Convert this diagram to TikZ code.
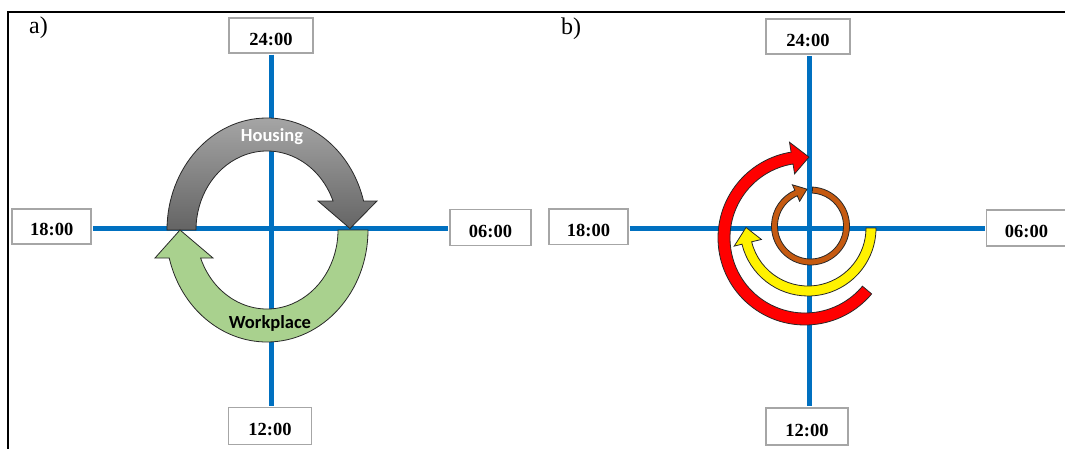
\documentclass[tikz,border=0pt]{standalone}
\usepackage{fontspec}
\setmainfont{Liberation Serif}
\newfontfamily\calibrifont{Carlito}
\usetikzlibrary{calc}
\definecolor{axisblue}{RGB}{0,112,192}
\definecolor{boxgray}{RGB}{166,166,166}
\definecolor{grtop}{RGB}{165,165,165}
\definecolor{grbot}{RGB}{100,100,100}
\definecolor{wgreen}{RGB}{169,209,142}
\definecolor{brownarrow}{RGB}{197,90,17}
\definecolor{outlinecol}{RGB}{40,40,40}
\begin{document}
\begin{tikzpicture}[x=1pt,y=1pt,
  timebox/.style={draw=boxgray, line width=1.6pt, fill=white, minimum width=#1,
    minimum height=35pt, inner sep=0pt, text height=19.2pt, text depth=0pt,
    font=\fontsize{18.5}{18.5}\selectfont\bfseries},
  timebox/.default=81pt,
  axisline/.style={draw=axisblue, line width=5pt, shorten <=0.8pt, shorten >=0.8pt},
  blockarrow/.style={draw=outlinecol, line width=0.8pt, line join=miter},
  panellabel/.style={font=\fontsize{24}{24}\selectfont, anchor=base west, inner sep=0pt},
  arclabel/.style={font=\calibrifont\fontsize{18.5}{18.5}\selectfont\bfseries, anchor=base, inner sep=0pt}
]
\useasboundingbox (0,0) rectangle (1065,-449);
% frame
\draw[line width=1.2pt] (8,-449) -- (8,-12) -- (1065,-12);

% ---------------- panel a ----------------
\node[panellabel] (LA) at (29,-34) {a)};
\node[timebox=84pt] (A24) at (271,-35.5) {24:00};
\node[timebox=83pt, minimum height=37pt] (A12) at (270,-425.8) {12:00};
\node[timebox=79pt] (A18) at (51.7,-226.3) {18:00};
\node[timebox=81pt, minimum height=36pt] (A06) at (490.5,-227.5) {06:00};
\coordinate (OA) at (271,-228);
\draw[axisline] (A24.south -| OA) -- (A12.north -| OA);
\draw[axisline] (A18.east |- OA) -- (A06.west |- OA);

\coordinate (CA) at (267,-230);
% Housing arrow
\path[blockarrow, top color=grtop, bottom color=grbot]
  ($(CA)+(180:100 and 112)$) arc[start angle=180, end angle=15, x radius=100, y radius=112]
  -- (377,-201) -- (350,-228.5) -- (318,-201)
  -- ($(CA)+(21.5:71 and 79)$) arc[start angle=21.5, end angle=180, x radius=71, y radius=79]
  -- cycle;
% Workplace arrow
\path[blockarrow, fill=wgreen]
  ($(CA)+(0:101 and 112)$) arc[start angle=0, end angle=-165.5, x radius=101, y radius=112]
  -- (155,-258) -- (180,-230) -- (213,-258)
  -- ($(CA)+(-159.2:71 and 79)$) arc[start angle=-159.2, end angle=0, x radius=71, y radius=79]
  -- cycle;
\node[arclabel, text=white] (LH) at (272,-142) {Housing};
\node[arclabel] (LW) at (270,-328) {Workplace};

% ---------------- panel b ----------------
\node[panellabel] (LB) at (561,-35) {b)};
\node[timebox=84.5pt] (B24) at (808,-36.7) {24:00};
\node[timebox=82.5pt, minimum height=37pt] (B12) at (807,-426.5) {12:00};
\node[timebox=79pt] (B18) at (588.5,-226.8) {18:00};
\node[timebox=80pt, minimum height=36pt] (B06) at (1026.5,-228) {06:00};
\coordinate (OB) at (809,-228);
\draw[axisline] (B24.south -| OB) -- (B12.north -| OB);
\draw[axisline] (B18.east |- OB) -- (B06.west |- OB);

% red
\coordinate (RC) at (805,-238);
\path[blockarrow, fill=red]
  ($(RC)+(-40:87)$) arc[start angle=-40, end angle=-260.8, radius=87]
  -- ($(RC)+(99.2:97)$) -- ($(RC)+(87.2:81)$) -- ($(RC)+(99.2:65)$)
  -- ($(RC)+(99.2:75)$) arc[start angle=-260.8, end angle=-40, radius=75]
  -- cycle;
% yellow
\coordinate (YC) at (808,-228);
\path[blockarrow, fill=yellow]
  ($(YC)+(0:68)$) arc[start angle=0, end angle=-166.2, radius=68]
  -- ($(YC)+(-166.2:76)$) -- ($(YC)+(-180.5:62)$) -- ($(YC)+(-166.2:48)$)
  -- ($(YC)+(-166.2:58)$) arc[start angle=-166.2, end angle=0, radius=58]
  -- cycle;
% brown
\coordinate (BC) at (810.5,-226);
\path[blockarrow, fill=brownarrow]
  ($(BC)+(87:39)$) arc[start angle=87, end angle=-246.3, radius=39]
  -- ($(BC)+(113.7:45)$) -- ($(BC)+(95.4:37)$) -- ($(BC)+(113.7:27)$)
  -- ($(BC)+(113.7:33)$) arc[start angle=-246.3, end angle=87, radius=33]
  -- cycle;
\end{tikzpicture}
\end{document}
